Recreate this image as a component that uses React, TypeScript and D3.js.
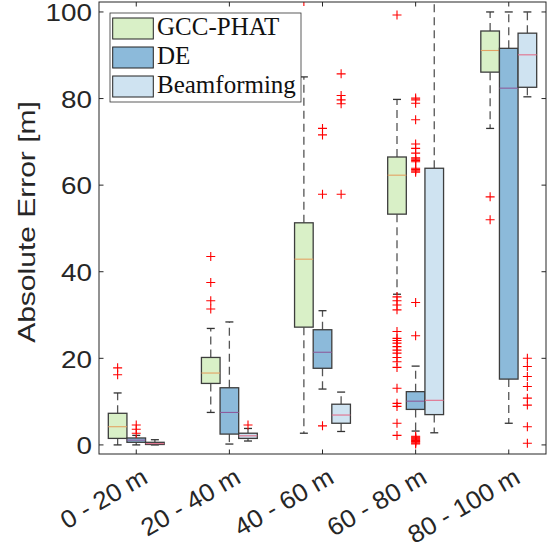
import React from 'react';
import * as d3 from 'd3';

// distance bins and methods
const categories = ['0 - 20 m', '20 - 40 m', '40 - 60 m', '60 - 80 m', '80 - 100 m'];
const methods = ['GCC-PHAT', 'DE', 'Beamforming'];
const methodColors = ['#d9f0c7', '#8cbada', '#cfe3f1'];
const medianColors = ['#e3a263', '#8d5c9c', '#e2708c'];

// [lower whisker, q1, median, q3, upper whisker] per bin
const gccStats = [
  [0, 1.5, 4.2, 7.3, 12.0],
  [7.5, 14.2, 16.6, 20.2, 26.9],
  [2.7, 27.2, 42.9, 51.3, 85.0],
  [34.8, 53.3, 62.3, 66.5, 79.8],
  [73.1, 86.1, 91.1, 95.6, 100],
];
const deStats = [
  [0, 0.6, 1.1, 1.6, 2.2],
  [0.2, 2.5, 7.5, 13.2, 28.4],
  [12.9, 17.7, 21.4, 26.6, 31.0],
  [3.2, 8.2, 10.1, 12.3, 18.2],
  [5.0, 15.2, 82.4, 91.6, 100],
];
const bfStats = [
  [0, 0.1, 0.3, 0.6, 1.2],
  [0.9, 1.5, 2.1, 2.7, 3.8],
  [3.1, 5.0, 6.9, 9.4, 12.2],
  [2.8, 7.0, 10.3, 63.9, 104],
  [80.4, 82.6, 90.1, 95.1, 100],
];

// outliers per bin
const gccOutliers = [
  [17.8, 16.2],
  [43.5, 37.5, 33.3, 31.4],
  [102.4],
  [99.3, 34.2, 33.3, 32.3, 31.2, 26.2, 24.6, 24.1, 23.5, 22.7, 21.9, 21.2, 20.2, 19.2, 17.9, 13.1, 9.6, 8.9, 5.0, 2.2],
  [57.3, 52.0],
];
const deOutliers = [
  [4.6, 3.6, 2.7],
  [],
  [73.1, 71.6, 57.9, 4.4],
  [80.1, 79.7, 78.9, 75.1, 69.5, 68.5, 67.4, 66.3, 66.0, 65.7, 65.4, 63.9, 63.6, 63.3, 63.0, 32.9, 25.2,
    2.0, 1.8, 1.6, 1.4, 1.2, 1.0, 0.8, 0.6, 0.4, 0.2],
  [],
];
const bfOutliers = [
  [],
  [4.6],
  [85.7, 80.7, 79.7, 78.8, 57.9],
  [],
  [20.0, 18.1, 15.8, 13.5, 10.8, 9.2, 4.2, 0.4],
];

const yTicks = [0, 20, 40, 60, 80, 100];

const statsByMethod = [gccStats, deStats, bfStats];
const outliersByMethod = [gccOutliers, deOutliers, bfOutliers];

export default function App() {
  const W = 552, H = 552;
  const left = 99, right = 546, top = 2, bottom = 454;

  const x = d3.scaleLinear().domain([0.6, 5.4]).range([left, right]);
  const y = d3.scaleLinear().domain([-2.1, 102.3]).range([bottom, top]);

  const offsets = [-0.2, 0, 0.2];
  const boxW = x(0.2) - x(0);
  const capW = 8;
  const axisCol = '#262626';
  const sans = '"Liberation Sans", Arial, sans-serif';
  const serif = '"Liberation Serif", "Times New Roman", serif';

  const plus = (cx: number, cy: number, key: string) => (
    <path key={key} d={`M${cx - 4.5},${cy}H${cx + 4.5}M${cx},${cy - 4.5}V${cy + 4.5}`}
      stroke="#ff0000" strokeWidth={1.1} fill="none" />
  );

  return (
    <div style={{ position: 'absolute', left: 0, top: 0 }}>
      <svg width={W} height={H} style={{ display: 'block', background: '#fff' }}>
        <defs>
          <clipPath id="plotclip">
            <rect x={left} y={top} width={right - left} height={bottom - top} />
          </clipPath>
        </defs>

        <g clipPath="url(#plotclip)">
          {categories.map((_, ci) =>
            methods.map((m, mi) => {
              const [lw, q1, med, q3, uw] = statsByMethod[mi][ci];
              const cx = x(ci + 1 + offsets[mi]);
              return (
                <g key={`${ci}-${m}`}>
                  <line x1={cx} x2={cx} y1={y(q3)} y2={y(uw)} stroke="#555" strokeWidth={1.3} strokeDasharray="8,5" />
                  <line x1={cx} x2={cx} y1={y(q1)} y2={y(lw)} stroke="#555" strokeWidth={1.3} strokeDasharray="8,5" />
                  <line x1={cx - capW / 2} x2={cx + capW / 2} y1={y(uw)} y2={y(uw)} stroke="#333" strokeWidth={1.3} />
                  <line x1={cx - capW / 2} x2={cx + capW / 2} y1={y(lw)} y2={y(lw)} stroke="#333" strokeWidth={1.3} />
                  <rect x={cx - boxW / 2} y={y(q3)} width={boxW} height={Math.max(1, y(q1) - y(q3))}
                    fill={methodColors[mi]} stroke="#3d3d3d" strokeWidth={1.3} />
                  <line x1={cx - boxW / 2} x2={cx + boxW / 2} y1={y(med)} y2={y(med)} stroke={medianColors[mi]} strokeWidth={1.1} />
                  {outliersByMethod[mi][ci].map((v, k) => plus(cx, y(v), `o${k}`))}
                </g>
              );
            })
          )}
        </g>

        {/* axes box */}
        <rect x={left} y={top} width={right - left} height={bottom - top} fill="none" stroke={axisCol} strokeWidth={1} />

        {/* y ticks */}
        {yTicks.map(t => (
          <g key={`y${t}`}>
            <line x1={left} x2={left + 4.5} y1={y(t)} y2={y(t)} stroke={axisCol} />
            <line x1={right} x2={right - 4.5} y1={y(t)} y2={y(t)} stroke={axisCol} />
            <text transform={`translate(92,${y(t) + 1}) scale(1.16,1)`} textAnchor="end" dominantBaseline="central"
              fontFamily={sans} fontSize={24} fill={axisCol}>{t}</text>
          </g>
        ))}

        {/* x ticks */}
        {categories.map((c, i) => {
          const tx = x(i + 1);
          return (
            <g key={c}>
              <line x1={tx} x2={tx} y1={bottom} y2={bottom - 4.5} stroke={axisCol} />
              <line x1={tx} x2={tx} y1={top} y2={top + 4.5} stroke={axisCol} />
              <text transform={`translate(${tx + 13},482) rotate(-30) scale(1.04,1)`} textAnchor="end"
                fontFamily={sans} fontSize={25} fill={axisCol}>{c}</text>
            </g>
          );
        })}

        {/* y label */}
        <text transform={`translate(35,${(top + bottom) / 2 - 6}) rotate(-90) scale(1.25,1)`} textAnchor="middle"
          fontFamily={sans} fontSize={24} fill={axisCol}>Absolute Error [m]</text>

        {/* legend */}
        <g>
          <rect x={110} y={13} width={191} height={89} fill="#fff" stroke="#333" strokeWidth={0.8} />
          {methods.map((m, i) => (
            <g key={m}>
              <rect x={112.7} y={18 + i * 29} width={40.6} height={21} fill={methodColors[i]} stroke="#222" strokeWidth={1} />
              <text x={157} y={35 + i * 29} fontFamily={serif} fontSize={25} fill="#111">{m}</text>
            </g>
          ))}
        </g>
      </svg>
    </div>
  );
}
